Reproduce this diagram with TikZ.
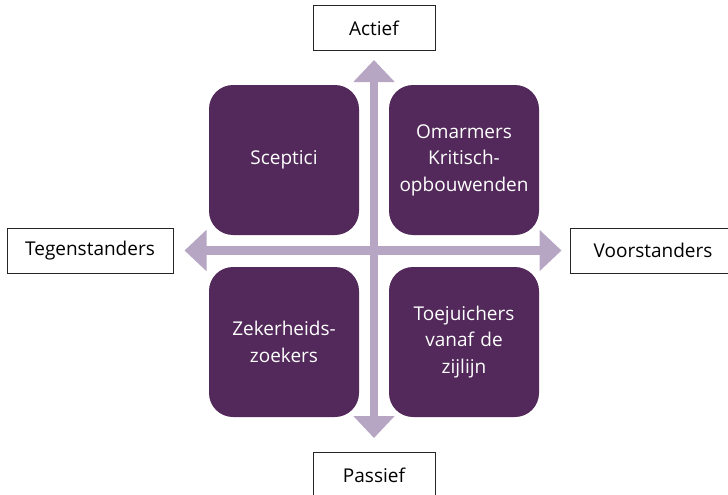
\documentclass[tikz,border=0pt]{standalone}
\usepackage{fontspec}
\setsansfont{Open Sans}
\usetikzlibrary{arrows.meta}
\definecolor{aubergine}{RGB}{82,41,90}
\definecolor{lila}{RGB}{183,166,195}

\begin{document}
\begin{tikzpicture}[x=1pt, y=-1pt,
  every node/.style={font=\sffamily\fontsize{19}{26.5}\selectfont},
  quadrant/.style={fill=aubergine, text=white, rounded corners=24pt,
    minimum width=150pt, minimum height=150pt, text width=146pt,
    align=center, inner sep=0pt},
  pole/.style={draw=black!85, line width=1pt, minimum height=45pt, inner sep=0pt},
  axis/.style={draw=lila, line width=8.5pt,
    {Triangle[width=40pt,length=22pt]}-{Triangle[width=40pt,length=22pt]}}]
\useasboundingbox (0,0) rectangle (728,495);

% vier kwadranten
\node[quadrant] (sceptici)  at (284,160) {Sceptici};
\node[quadrant] (omarmers)  at (464,160) {Omarmers\\Kritisch-\\opbouwenden};
\node[quadrant] (zekerheid) at (284,342) {Zekerheids-\\zoekers};
\node[quadrant] (toejuich)  at (464,342) {Toejuichers\\vanaf de\\zijlijn};

% assen
\node[pole, minimum width=122pt] (actief)  at (374,28)    {Actief};
\node[pole, minimum width=122pt] (passief) at (374,475)   {Passief};
\node[pole, minimum width=166pt] (tegen)   at (90,250.5)  {Tegenstanders};
\node[pole, minimum width=166pt] (voor)    at (653,250.5) {Voorstanders};

\draw[axis, shorten <=9pt, shorten >=14pt] (actief) -- (passief);
\draw[axis, shorten <=11pt, shorten >=8pt] (tegen) -- (voor);
\end{tikzpicture}
\end{document}
